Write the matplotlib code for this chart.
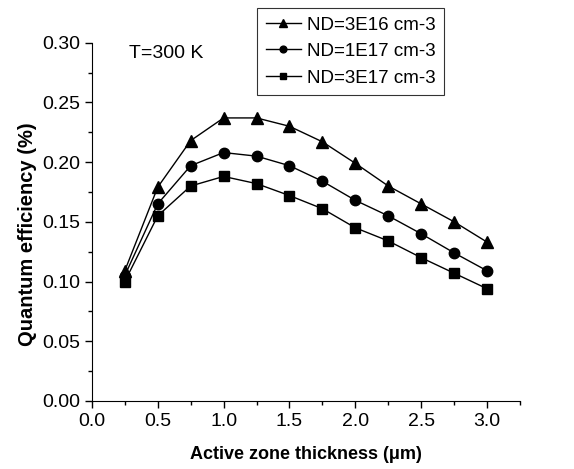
import numpy as np
import matplotlib.pyplot as plt

plt.rcParams['font.family'] = ['Liberation Sans', 'DejaVu Sans']

# active zone thickness (um)
thickness = [0.25, 0.5, 0.75, 1.0, 1.25, 1.5, 1.75, 2.0, 2.25, 2.5, 2.75, 3.0]

# quantum efficiency (%) for three doping levels
qe_3e16 = [0.109, 0.179, 0.218, 0.237, 0.237, 0.230, 0.217, 0.199, 0.180, 0.165, 0.150, 0.133]
qe_1e17 = [0.105, 0.165, 0.197, 0.208, 0.205, 0.197, 0.184, 0.168, 0.155, 0.140, 0.124, 0.109]
qe_3e17 = [0.100, 0.155, 0.180, 0.188, 0.182, 0.172, 0.161, 0.145, 0.134, 0.120, 0.107, 0.094]

labels = ["ND=3E16 cm-3", "ND=1E17 cm-3", "ND=3E17 cm-3"]

fig = plt.figure(figsize=(5.74, 4.69), dpi=100)
ax = fig.add_axes([0.160, 0.145, 0.746, 0.764])

l1, = ax.plot(thickness, qe_3e16, color='black', marker='^', ms=9, lw=1.0)
l2, = ax.plot(thickness, qe_1e17, color='black', marker='o', ms=7.5, lw=1.0)
l3, = ax.plot(thickness, qe_3e17, color='black', marker='s', ms=7, lw=1.0)

ax.set_xlim(0, 3.25)
ax.set_ylim(0, 0.30)
ax.set_xticks(np.arange(0, 3.01, 0.5))
ax.set_xticks(np.arange(0, 3.26, 0.25), minor=True)
ax.set_yticks(np.arange(0, 0.301, 0.05))
ax.set_yticks(np.arange(0, 0.301, 0.025), minor=True)
ax.set_xticklabels(["%.1f" % v for v in np.arange(0, 3.01, 0.5)])
ax.set_yticklabels(["%.2f" % v for v in np.arange(0, 0.301, 0.05)])
ax.tick_params(which='major', direction='out', length=5, width=1, labelsize=14)
ax.tick_params(axis='x', which='major', pad=4)
ax.tick_params(which='minor', direction='out', length=3, width=1)

ax.spines['top'].set_visible(False)
ax.spines['right'].set_visible(False)

ax.set_xlabel("Active zone thickness (\u03bcm)", fontsize=13, fontweight='bold', labelpad=11)
ax.set_ylabel("Quantum efficiency (%)", fontsize=14.5, fontweight='bold')
ax.yaxis.set_label_coords(-0.128, 0.465)

ax.text(0.28, 0.291, "T=300 K", fontsize=14, va='center', ha='left')

leg = fig.legend([l1, l2, l3], labels, loc='upper left',
                 bbox_to_anchor=(0.448, 0.983), fontsize=13.5,
                 frameon=True, fancybox=False, handlelength=1.9,
                 handletextpad=0.3, labelspacing=0.5, borderpad=0.45,
                 borderaxespad=0, markerscale=0.65)
leg.get_frame().set_edgecolor('black')
leg.get_frame().set_linewidth(0.8)

fig.savefig("out.png", dpi=100)
